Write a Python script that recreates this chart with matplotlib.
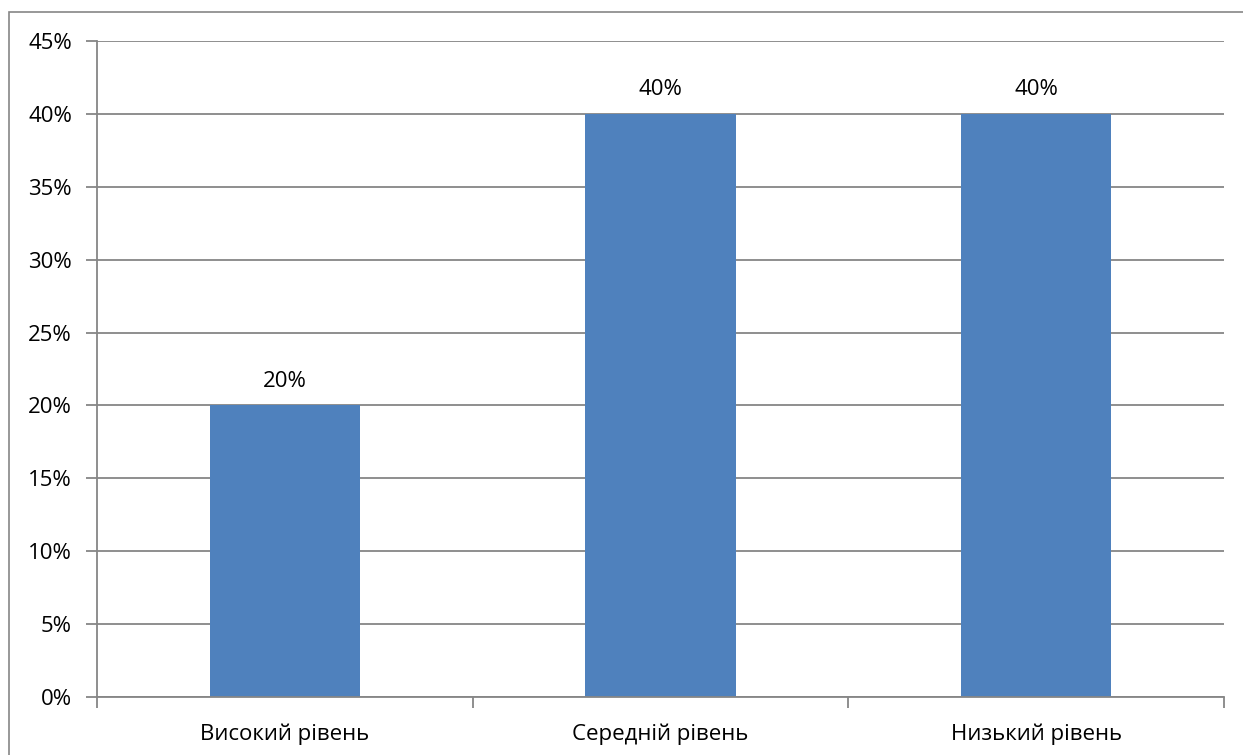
import matplotlib
matplotlib.use("Agg")
import matplotlib.pyplot as plt
from matplotlib.patches import Rectangle
from matplotlib.ticker import MultipleLocator, FuncFormatter, FixedLocator

categories = ["Високий рівень", "Середній рівень", "Низький рівень"]
values = [20, 40, 40]

BAR = "#4F81BD"
GRID = "#868686"
FS = 16

plt.rcParams["font.family"] = ["Open Sans", "DejaVu Sans"]

fig = plt.figure(figsize=(12.43, 7.55), dpi=100, facecolor="white")
# outer chart border
fig.patches.append(Rectangle((9 / 1243, -0.1), 1.2, (755 - 12) / 755 + 0.1,
                             transform=fig.transFigure, fill=False,
                             edgecolor=GRID, linewidth=1.2))

ax = fig.add_axes([97 / 1243, 1 - 697 / 755, (1224 - 97) / 1243, (697 - 41) / 755])
x = range(len(categories))
ax.bar(x, values, width=0.4, color=BAR, zorder=3)
for i, v in enumerate(values):
    ax.text(i, v + 1.65, f"{v}%", ha="center", va="center", fontsize=FS, color="black")

ax.set_xlim(-0.5, len(categories) - 0.5)
ax.set_ylim(0, 45)
ax.yaxis.set_major_locator(MultipleLocator(5))
ax.yaxis.set_major_formatter(FuncFormatter(lambda v, _: f"{v:.0f}%"))
ax.grid(axis="y", color=GRID, linewidth=1.3, zorder=0)

ax.set_xticks(list(x))
ax.set_xticklabels(categories)
ax.xaxis.set_minor_locator(FixedLocator([-0.5, 0.5, 1.5, 2.5]))
ax.tick_params(axis="x", which="major", length=0, pad=19, labelsize=FS)
ax.tick_params(axis="x", which="minor", length=8, width=1.3, color=GRID, direction="out")
ax.tick_params(axis="y", length=8, width=1.3, color=GRID, direction="out", pad=10, labelsize=FS)

for side in ["top", "right"]:
    ax.spines[side].set_visible(False)
for side in ["left", "bottom"]:
    ax.spines[side].set_color(GRID)
    ax.spines[side].set_linewidth(1.3)
ax.spines["bottom"].set_zorder(4)

fig.savefig("out.png", dpi=100, facecolor="white")
